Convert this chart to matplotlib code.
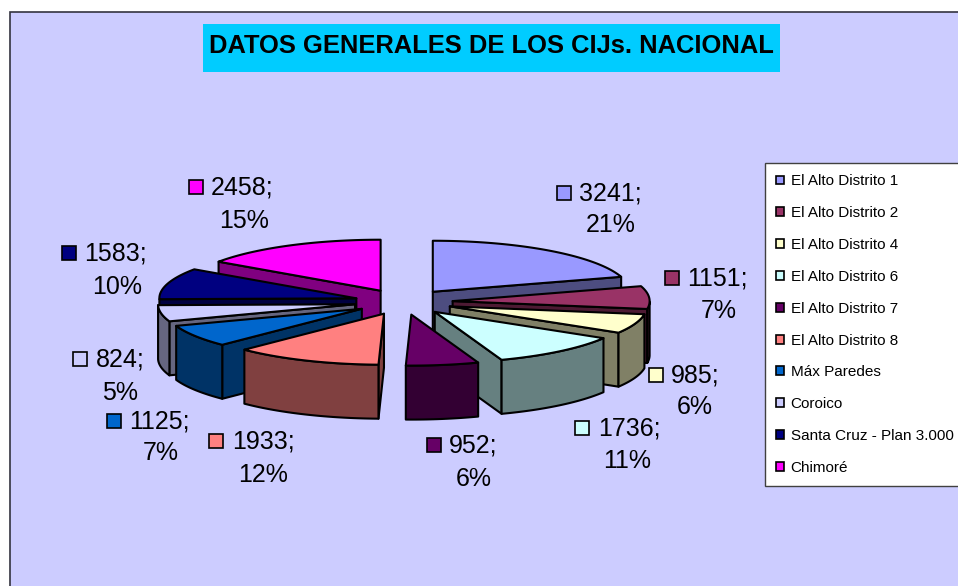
import numpy as np
import matplotlib
matplotlib.use("Agg")
import matplotlib.pyplot as plt
from matplotlib.patches import Polygon, Rectangle, Patch

plt.rcParams['font.family'] = ['Liberation Sans', 'DejaVu Sans']

# ---------- data ----------
categories = ["El Alto Distrito 1", "El Alto Distrito 2", "El Alto Distrito 4",
              "El Alto Distrito 6", "El Alto Distrito 7", "El Alto Distrito 8",
              "Máx Paredes", "Coroico", "Santa Cruz - Plan 3.000", "Chimoré"]
values = [3241, 1151, 985, 1736, 952, 1933, 1125, 824, 1583, 2458]
percents = [21, 7, 6, 11, 6, 12, 7, 5, 10, 15]
top_colors = ["#9999FF", "#993366", "#FFFFCC", "#CCFFFF", "#660066",
              "#FF8080", "#0066CC", "#CCCCFF", "#000080", "#FF00FF"]
side_colors = ["#4D4D80", "#4D1A33", "#808066", "#668080", "#330033",
               "#804040", "#003366", "#666680", "#000040", "#800080"]
title = "DATOS GENERALES DE LOS CIJs. NACIONAL"

# ---------- layout (pixels) ----------
BG = "#CCCCFF"
CX, CY, RX, RY, DEPTH, EXPLODE = 403.5, 302, 197, 51, 54, 0.25
# swatch left, first-line y, text left, second-line centre x, second-line y
label_layout = [(557, 193, 579, 611, 224), (665, 278, 687, 719, 310),
                (649, 375, 671, 695, 406), (575, 428, 598, 627, 460),
                (427, 445, 449, 474, 477), (209, 441, 232, 263, 473),
                (107, 421, 129, 161, 452), (73, 359, 96, 120, 391),
                (62, 253, 84, 117, 285), (189, 187, 211, 244, 219)]

fig = plt.figure(figsize=(9.58, 5.86), dpi=100, facecolor="white")
ax = fig.add_axes([0, 0, 1, 1])
ax.set_xlim(0, 958)
ax.set_ylim(586, 0)
ax.axis("off")

# plot area and title
ax.add_patch(Rectangle((10.5, 12), 960, 600, fc=BG, ec="#333340", lw=1.2, zorder=0))
ax.add_patch(Rectangle((203, 24), 577, 48, fc="#00CCFF", ec="none", zorder=1))
ax.text(491, 46, title, ha="center", va="center", fontsize=18.4,
        fontweight="bold", color="black", zorder=2)

# exploded 3-D pie from the values
vals = np.array(values, dtype=float)
edges = np.concatenate([[0], np.cumsum(vals)]) / vals.sum() * 2 * np.pi
mids = (edges[:-1] + edges[1:]) / 2


def project(theta, r=1.0):
    return CX + RX * r * np.sin(theta), CY - RY * r * np.cos(theta)


order = np.argsort(-np.cos(mids))
z = 3
for i in order:
    ax0, ay0 = project(mids[i], EXPLODE)
    th = np.linspace(edges[i], edges[i + 1], max(int(np.degrees(edges[i + 1] - edges[i])), 2) + 1)
    rx = ax0 + RX * np.sin(th)
    ry = ay0 - RY * np.cos(th)
    # outline clockwise on screen: apex, rim, back to apex
    px = np.concatenate([[ax0], rx, [ax0]])
    py = np.concatenate([[ay0], ry, [ay0]])
    # hidden faces are simply not drawn: an edge running right-to-left faces the viewer
    faces = [(0, 1), (len(px) - 2, len(px) - 1)]
    # radial faces first
    for a, b in faces:
        if px[b] - px[a] < -0.01:
            ax.add_patch(Polygon([(px[a], py[a]), (px[b], py[b]),
                                  (px[b], py[b] + DEPTH), (px[a], py[a] + DEPTH)],
                                 closed=True, fc=side_colors[i], ec="black", lw=1.5,
                                 joinstyle="round", zorder=z))
    # outer wall, front part of the rim only
    front = np.cos(th) < 0.0
    if front.sum() >= 2:
        wx, wy = rx[front], ry[front]
        ax.add_patch(Polygon(np.column_stack([np.concatenate([wx, wx[::-1]]),
                                              np.concatenate([wy, wy[::-1] + DEPTH])]),
                             closed=True, fc=side_colors[i], ec="black", lw=1.5,
                             joinstyle="round", zorder=z))
    ax.add_patch(Polygon(np.column_stack([px[:-1], py[:-1]]), closed=True,
                         fc=top_colors[i], ec="black", lw=1.5, joinstyle="round", zorder=z))
    z += 1

# data labels
for i, (sx, sy, tx, cx2, y2) in enumerate(label_layout):
    ax.add_patch(Rectangle((sx, sy - 7), 14, 14, fc=top_colors[i], ec="black", lw=1.2, zorder=30))
    ax.text(tx, sy + 0.5, f"{values[i]};", ha="left", va="center", fontsize=18, zorder=30)
    ax.text(cx2, y2 + 1.5, f"{percents[i]}%", ha="center", va="center", fontsize=18, zorder=30)

# legend
handles = [Patch(fc=c, ec="black", lw=1.2) for c in top_colors]
leg = ax.legend(handles, categories, loc="upper left",
                bbox_to_anchor=(765 / 958, 1 - 163 / 586), bbox_transform=fig.transFigure,
                fontsize=11, handlelength=0.52, handleheight=0.52, handletextpad=0.40,
                labelspacing=1.166, borderpad=0.75, borderaxespad=0, frameon=True,
                fancybox=False, framealpha=1, facecolor="white", edgecolor="#404040")
leg.get_frame().set_linewidth(1.0)
leg.set_zorder(40)

fig.savefig("out.png", dpi=100, facecolor="white")
